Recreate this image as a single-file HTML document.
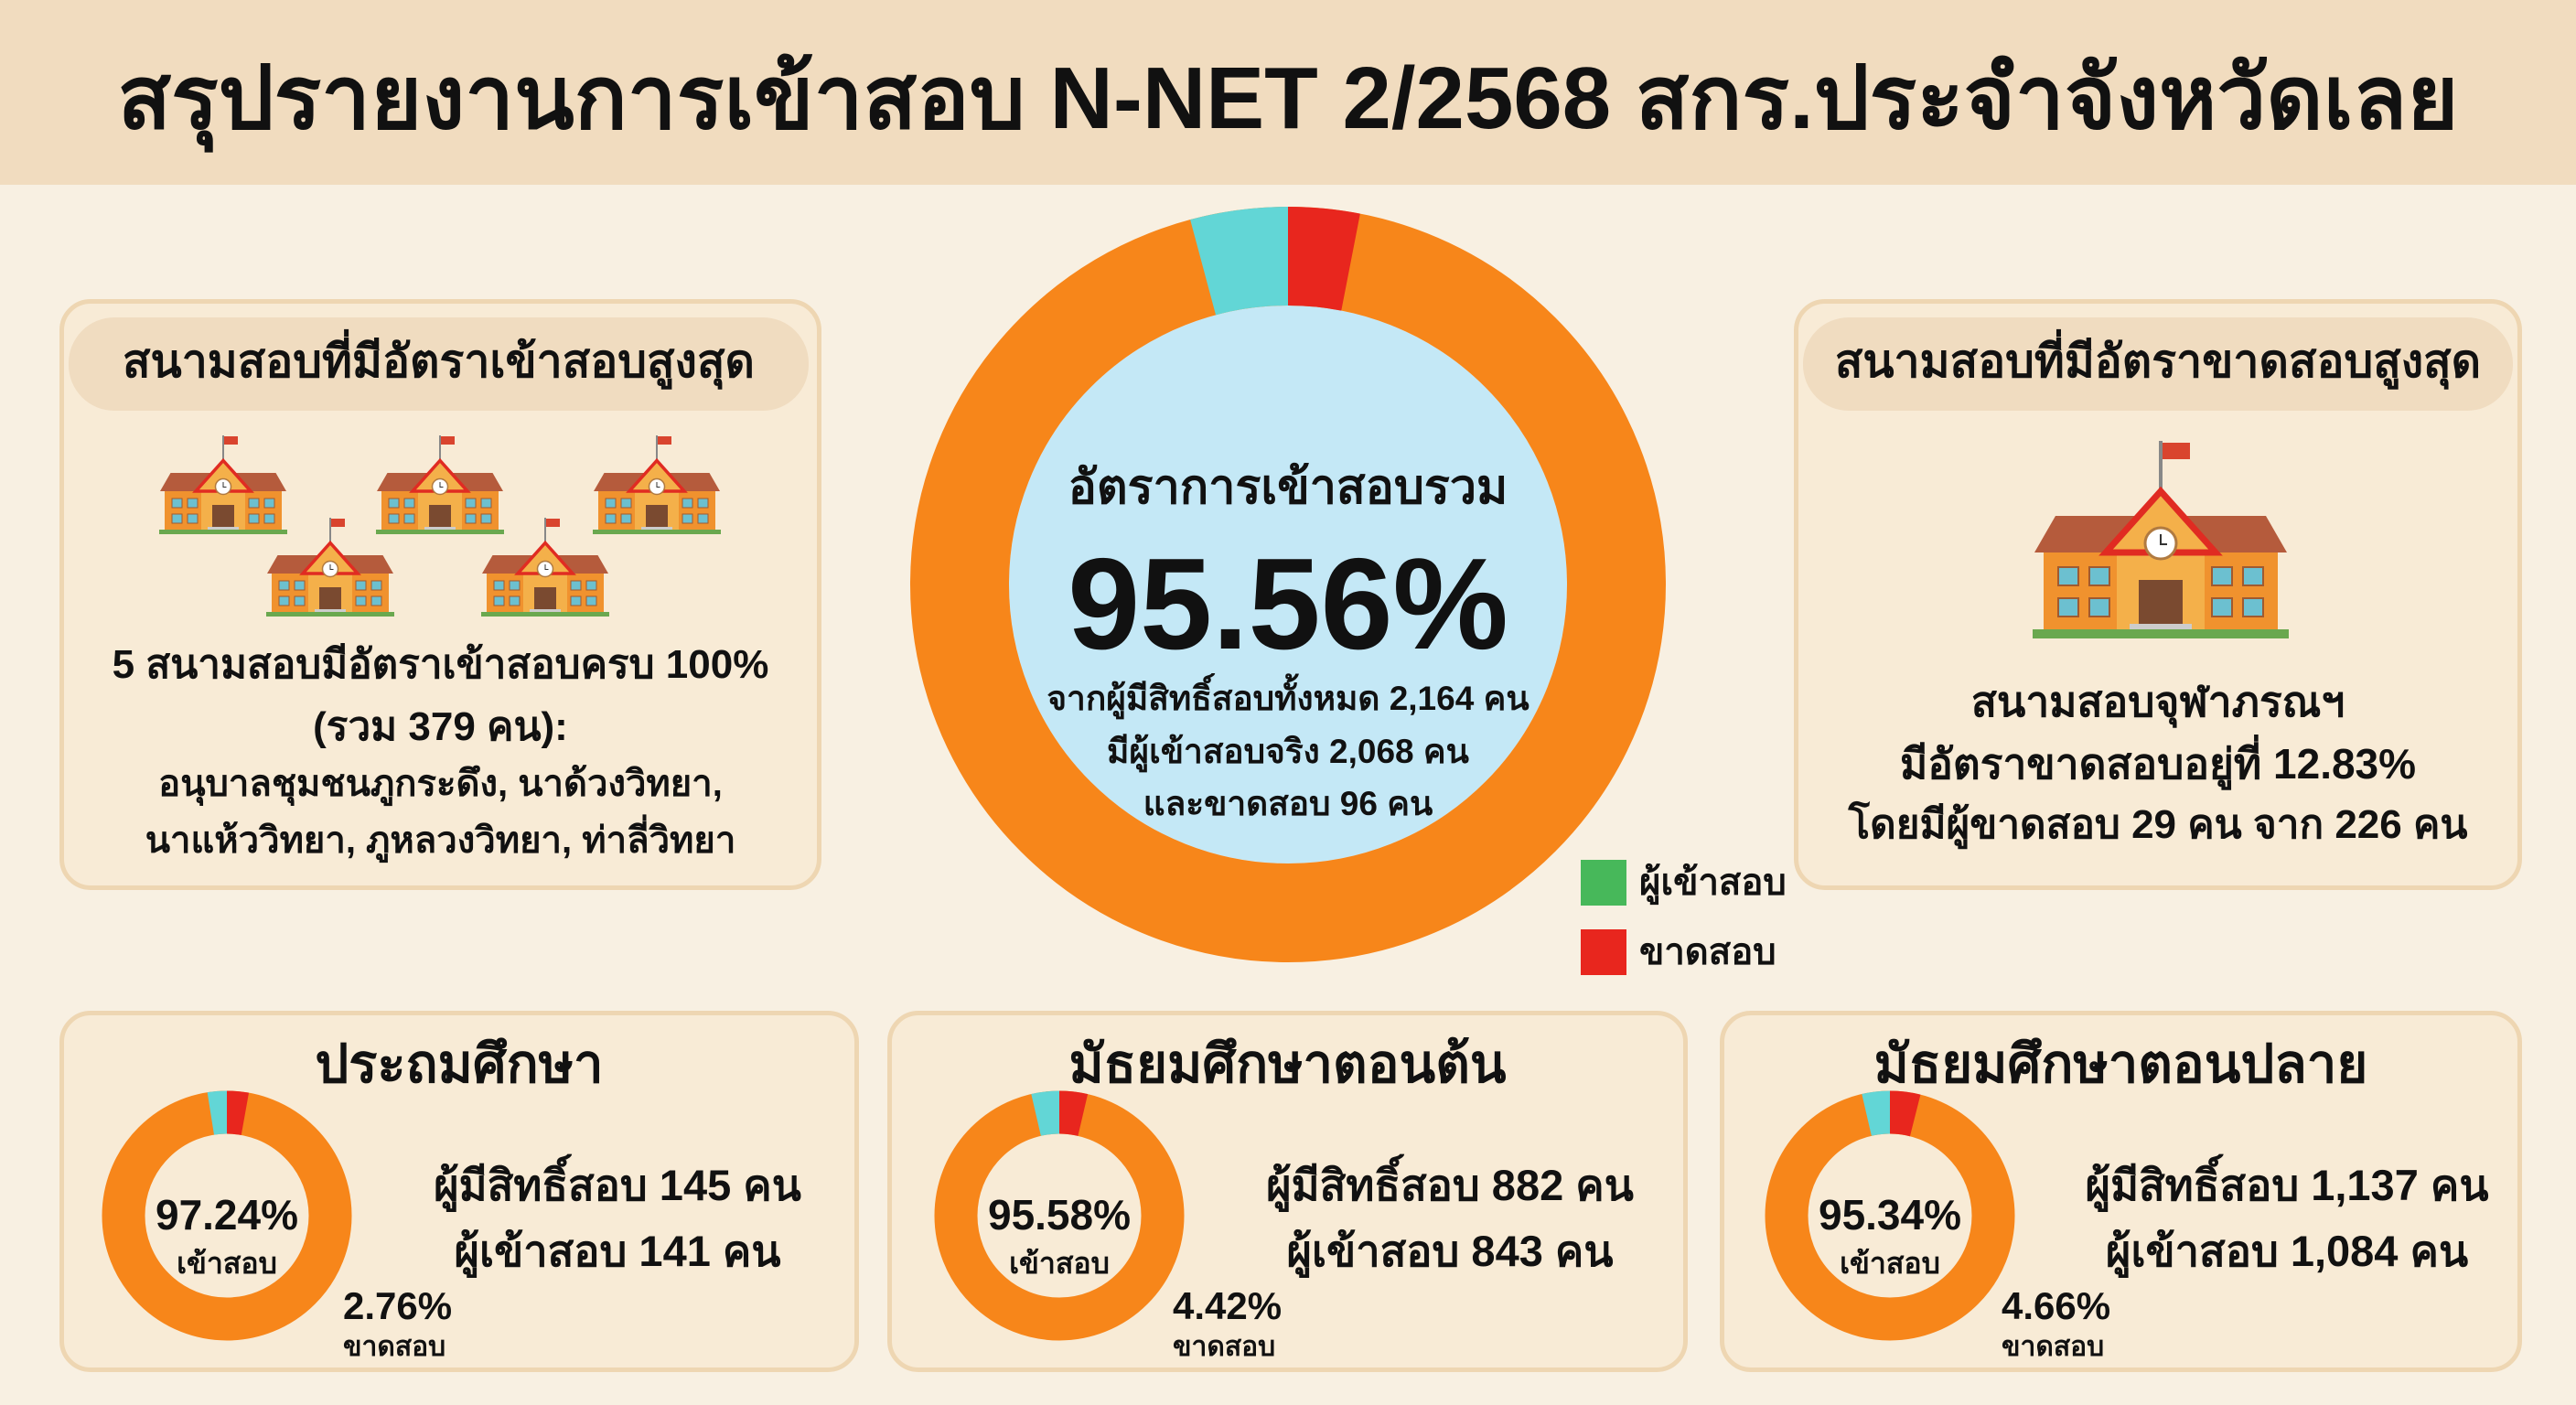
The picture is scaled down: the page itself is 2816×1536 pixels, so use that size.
<!DOCTYPE html>
<html><head><meta charset="utf-8"><style>
*{margin:0;padding:0;box-sizing:border-box}
body{width:2816px;height:1536px;background:#f8f0e2;position:relative;overflow:hidden;font-family:"Liberation Sans","Noto Sans CJK SC",sans-serif;color:#111}
.hdr{position:absolute;left:0;top:0;width:2816px;height:202px;background:#f1dcbf}
.t{position:absolute;white-space:nowrap;text-align:center;font-weight:bold;line-height:1}
.panel{position:absolute;border:5px solid #eed6b2;background:#f8ebd6;border-radius:34px}
.pill{position:absolute;background:#f0dcc0;border-radius:50px}
.sq{position:absolute;width:50px;height:50px}
</style></head><body>
<svg width="0" height="0" style="position:absolute">
<defs>
<symbol id="school" viewBox="0 0 280 220">
<rect x="138" y="0" width="4" height="60" fill="#888"/>
<rect x="142" y="2" width="30" height="18" fill="#d9442e"/>
<polygon points="2,122 25,82 255,82 278,122" fill="#b55b3c"/>
<rect x="12" y="122" width="256" height="84" fill="#f0922e"/>
<rect x="92" y="108" width="96" height="98" fill="#f4b04a"/>
<polygon points="80,122 140,55 200,122" fill="#f4b04a" stroke="#e02b22" stroke-width="7"/>
<circle cx="140" cy="112" r="17" fill="#fff" stroke="#b07a40" stroke-width="3"/>
<path d="M140 102v11h7" stroke="#333" stroke-width="2" fill="none"/>
<rect x="116" y="152" width="48" height="50" fill="#7a4a30"/>
<rect x="106" y="200" width="68" height="8" fill="#ccc"/>
<g fill="#6cc0d0" stroke="#a05a30" stroke-width="2">
<rect x="28" y="138" width="22" height="20"/><rect x="62" y="138" width="22" height="20"/>
<rect x="28" y="172" width="22" height="20"/><rect x="62" y="172" width="22" height="20"/>
<rect x="196" y="138" width="22" height="20"/><rect x="230" y="138" width="22" height="20"/>
<rect x="196" y="172" width="22" height="20"/><rect x="230" y="172" width="22" height="20"/>
</g>
<rect x="0" y="206" width="280" height="10" fill="#6aa84f"/>
</symbol>
</defs></svg>

<div class="hdr"></div>
<div class="t" style="left:0;width:2816px;top:60px;font-size:96px">สรุปรายงานการเข้าสอบ N-NET 2/2568 สกร.ประจำจังหวัดเลย</div>

<!-- left panel -->
<div class="panel" style="left:65px;top:327px;width:833px;height:646px"></div>
<div class="pill" style="left:75px;top:347px;width:809px;height:102px"></div>
<div class="t" style="left:75px;width:809px;top:370px;font-size:50px">สนามสอบที่มีอัตราเข้าสอบสูงสุด</div>
<svg style="position:absolute;left:174px;top:476px" width="140" height="110"><use href="#school"/></svg>
<svg style="position:absolute;left:411px;top:476px" width="140" height="110"><use href="#school"/></svg>
<svg style="position:absolute;left:648px;top:476px" width="140" height="110"><use href="#school"/></svg>
<svg style="position:absolute;left:291px;top:566px" width="140" height="110"><use href="#school"/></svg>
<svg style="position:absolute;left:526px;top:566px" width="140" height="110"><use href="#school"/></svg>
<div class="t" style="left:65px;width:833px;top:705px;font-size:44px">5 สนามสอบมีอัตราเข้าสอบครบ 100%</div>
<div class="t" style="left:65px;width:833px;top:773px;font-size:44px">(รวม 379 คน):</div>
<div class="t" style="left:65px;width:833px;top:837px;font-size:40px">อนุบาลชุมชนภูกระดึง, นาด้วงวิทยา,</div>
<div class="t" style="left:65px;width:833px;top:899px;font-size:40px">นาแห้ววิทยา, ภูหลวงวิทยา, ท่าลี่วิทยา</div>

<!-- right panel -->
<div class="panel" style="left:1961px;top:327px;width:796px;height:646px"></div>
<div class="pill" style="left:1971px;top:347px;width:776px;height:102px"></div>
<div class="t" style="left:1971px;width:776px;top:370px;font-size:50px">สนามสอบที่มีอัตราขาดสอบสูงสุด</div>
<svg style="position:absolute;left:2222px;top:482px" width="280" height="220"><use href="#school"/></svg>
<div class="t" style="left:1961px;width:796px;top:744px;font-size:46px">สนามสอบจุฬาภรณฯ</div>
<div class="t" style="left:1961px;width:796px;top:812px;font-size:46px">มีอัตราขาดสอบอยู่ที่ 12.83%</div>
<div class="t" style="left:1961px;width:796px;top:880px;font-size:44px">โดยมีผู้ขาดสอบ 29 คน จาก 226 คน</div>

<!-- big donut -->
<svg style="position:absolute;left:995px;top:226px" width="826" height="826" viewBox="-413 -413 826 826">
<circle r="305" fill="#c4e8f6"/>
<circle r="359" fill="none" stroke="#f7861a" stroke-width="108"/>
<circle r="359" fill="none" stroke="#62d6d6" stroke-width="108" stroke-dasharray="94 3000" transform="rotate(-105)"/>
<circle r="359" fill="none" stroke="#e8261e" stroke-width="108" stroke-dasharray="69 3000" transform="rotate(-90)"/>
</svg>
<div class="t" style="left:1008px;width:800px;top:507px;font-size:52px">อัตราการเข้าสอบรวม</div>
<div class="t" style="left:1008px;width:800px;top:590px;font-size:142px">95.56%</div>
<div class="t" style="left:1008px;width:800px;top:745px;font-size:37px">จากผู้มีสิทธิ์สอบทั้งหมด 2,164 คน</div>
<div class="t" style="left:1008px;width:800px;top:803px;font-size:37px">มีผู้เข้าสอบจริง 2,068 คน</div>
<div class="t" style="left:1008px;width:800px;top:860px;font-size:37px">และขาดสอบ 96 คน</div>
<div class="sq" style="left:1728px;top:940px;background:#47b85a"></div>
<div class="t" style="left:1792px;top:945px;font-size:40px;text-align:left">ผู้เข้าสอบ</div>
<div class="sq" style="left:1728px;top:1016px;background:#e8261e"></div>
<div class="t" style="left:1792px;top:1021px;font-size:40px;text-align:left">ขาดสอบ</div>

<!-- bottom panels -->
<div class="panel" style="left:65px;top:1105px;width:874px;height:395px"></div>
<div class="panel" style="left:970px;top:1105px;width:875px;height:395px"></div>
<div class="panel" style="left:1880px;top:1105px;width:877px;height:395px"></div>

<div class="t" style="left:65px;width:874px;top:1135px;font-size:58px">ประถมศึกษา</div>
<div class="t" style="left:970px;width:875px;top:1135px;font-size:58px">มัธยมศึกษาตอนต้น</div>
<div class="t" style="left:1880px;width:877px;top:1135px;font-size:58px">มัธยมศึกษาตอนปลาย</div>

<svg style="position:absolute;left:111px;top:1192px" width="274" height="274" viewBox="-137 -137 274 274">
<circle r="113" fill="none" stroke="#f7861a" stroke-width="47"/>
<circle r="113" fill="none" stroke="#62d6d6" stroke-width="47" stroke-dasharray="18 3000" transform="rotate(-99)"/>
<circle r="113" fill="none" stroke="#e8261e" stroke-width="47" stroke-dasharray="20 3000" transform="rotate(-90)"/>
</svg>
<svg style="position:absolute;left:1021px;top:1192px" width="274" height="274" viewBox="-137 -137 274 274">
<circle r="113" fill="none" stroke="#f7861a" stroke-width="47"/>
<circle r="113" fill="none" stroke="#62d6d6" stroke-width="47" stroke-dasharray="26 3000" transform="rotate(-103)"/>
<circle r="113" fill="none" stroke="#e8261e" stroke-width="47" stroke-dasharray="26 3000" transform="rotate(-90)"/>
</svg>
<svg style="position:absolute;left:1929px;top:1192px" width="274" height="274" viewBox="-137 -137 274 274">
<circle r="113" fill="none" stroke="#f7861a" stroke-width="47"/>
<circle r="113" fill="none" stroke="#62d6d6" stroke-width="47" stroke-dasharray="26 3000" transform="rotate(-103)"/>
<circle r="113" fill="none" stroke="#e8261e" stroke-width="47" stroke-dasharray="28 3000" transform="rotate(-90)"/>
</svg>

<div class="t" style="left:148px;width:200px;top:1305px;font-size:46px">97.24%</div>
<div class="t" style="left:148px;width:200px;top:1365px;font-size:32px">เข้าสอบ</div>
<div class="t" style="left:1058px;width:200px;top:1305px;font-size:46px">95.58%</div>
<div class="t" style="left:1058px;width:200px;top:1365px;font-size:32px">เข้าสอบ</div>
<div class="t" style="left:1966px;width:200px;top:1305px;font-size:46px">95.34%</div>
<div class="t" style="left:1966px;width:200px;top:1365px;font-size:32px">เข้าสอบ</div>

<div class="t" style="left:375px;top:1407px;font-size:42px;text-align:left">2.76%</div>
<div class="t" style="left:375px;top:1458px;font-size:30px;text-align:left">ขาดสอบ</div>
<div class="t" style="left:1282px;top:1407px;font-size:42px;text-align:left">4.42%</div>
<div class="t" style="left:1282px;top:1458px;font-size:30px;text-align:left">ขาดสอบ</div>
<div class="t" style="left:2188px;top:1407px;font-size:42px;text-align:left">4.66%</div>
<div class="t" style="left:2188px;top:1458px;font-size:30px;text-align:left">ขาดสอบ</div>

<div class="t" style="left:440px;width:470px;top:1272px;font-size:47px">ผู้มีสิทธิ์สอบ 145 คน</div>
<div class="t" style="left:440px;width:470px;top:1344px;font-size:47px">ผู้เข้าสอบ 141 คน</div>
<div class="t" style="left:1340px;width:490px;top:1272px;font-size:47px">ผู้มีสิทธิ์สอบ 882 คน</div>
<div class="t" style="left:1340px;width:490px;top:1344px;font-size:47px">ผู้เข้าสอบ 843 คน</div>
<div class="t" style="left:2250px;width:500px;top:1272px;font-size:47px">ผู้มีสิทธิ์สอบ 1,137 คน</div>
<div class="t" style="left:2250px;width:500px;top:1344px;font-size:47px">ผู้เข้าสอบ 1,084 คน</div>
</body></html>
